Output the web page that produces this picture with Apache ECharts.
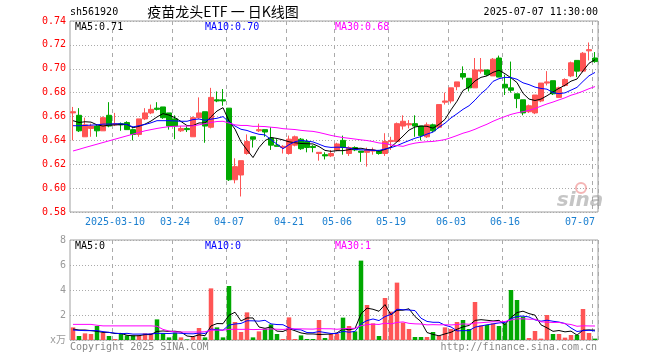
<!DOCTYPE html>
<html><head><meta charset="utf-8">
<script src="https://cdn.jsdelivr.net/npm/echarts@6/dist/echarts.min.js"></script>
<style>html,body{margin:0;padding:0;background:#fff}#c{width:660px;height:360px}</style>
</head><body><div id="c"></div>
<script>
const dates = [
'2025-02-27','2025-02-28',
'2025-03-03','2025-03-04','2025-03-05','2025-03-06','2025-03-07','2025-03-10','2025-03-11','2025-03-12','2025-03-13','2025-03-14',
'2025-03-17','2025-03-18','2025-03-19','2025-03-20','2025-03-21','2025-03-24','2025-03-25','2025-03-26','2025-03-27','2025-03-28','2025-03-31',
'2025-04-01','2025-04-02','2025-04-03','2025-04-07','2025-04-08','2025-04-09','2025-04-10','2025-04-11','2025-04-14','2025-04-15','2025-04-16',
'2025-04-17','2025-04-18','2025-04-21','2025-04-22','2025-04-23','2025-04-24','2025-04-25','2025-04-28','2025-04-29','2025-04-30',
'2025-05-06','2025-05-07','2025-05-08','2025-05-09','2025-05-12','2025-05-13','2025-05-14','2025-05-15','2025-05-16','2025-05-19',
'2025-05-20','2025-05-21','2025-05-22','2025-05-23','2025-05-26','2025-05-27','2025-05-28','2025-05-29','2025-05-30',
'2025-06-03','2025-06-04','2025-06-05','2025-06-06','2025-06-09','2025-06-10','2025-06-11','2025-06-12','2025-06-13','2025-06-16',
'2025-06-17','2025-06-18','2025-06-19','2025-06-20','2025-06-23','2025-06-24','2025-06-25','2025-06-26','2025-06-27','2025-06-30',
'2025-07-01','2025-07-02','2025-07-03','2025-07-04','2025-07-07'];

const opens = [0.663,0.661,0.643,0.650,0.652,0.648,0.661,0.653,0.654,0.655,
0.649,0.645,0.658,0.663,0.667,0.668,0.663,0.658,0.648,0.650,
0.643,0.659,0.664,0.651,0.674,0.674,0.667,0.607,0.611,0.629,
0.643,0.648,0.649,0.642,0.636,0.634,0.629,0.636,0.641,0.639,
0.635,0.629,0.628,0.627,0.632,0.640,0.629,0.634,0.631,0.630,
0.631,0.631,0.629,0.639,0.639,0.652,0.653,0.654,0.652,0.643,
0.653,0.651,0.672,0.673,0.685,0.696,0.692,0.684,0.698,0.699,
0.694,0.709,0.687,0.684,0.679,0.674,0.664,0.663,0.673,0.688,
0.690,0.676,0.686,0.694,0.707,0.698,0.715,0.709];

const closes = [0.664,0.648,0.653,0.652,0.648,0.659,0.652,0.654,0.653,0.649,
0.645,0.658,0.663,0.666,0.666,0.659,0.652,0.652,0.650,0.649,
0.659,0.663,0.652,0.676,0.673,0.673,0.607,0.618,0.623,0.639,
0.641,0.649,0.647,0.636,0.635,0.635,0.641,0.643,0.633,0.634,
0.634,0.630,0.627,0.629,0.637,0.634,0.634,0.632,0.630,0.632,
0.632,0.629,0.639,0.640,0.654,0.656,0.654,0.652,0.644,0.653,
0.648,0.670,0.673,0.684,0.689,0.693,0.684,0.699,0.699,0.695,
0.708,0.693,0.684,0.682,0.675,0.663,0.669,0.678,0.688,0.689,
0.679,0.684,0.691,0.705,0.698,0.713,0.716,0.706];

const lows = [0.640,0.647,0.643,0.643,0.643,0.648,0.651,0.652,0.648,0.649,
0.640,0.643,0.657,0.662,0.665,0.658,0.649,0.641,0.647,0.647,
0.643,0.658,0.638,0.650,0.672,0.669,0.606,0.604,0.593,0.628,
0.634,0.647,0.643,0.632,0.635,0.629,0.628,0.635,0.632,0.630,
0.630,0.623,0.624,0.626,0.631,0.628,0.627,0.631,0.622,0.618,
0.628,0.628,0.627,0.632,0.639,0.649,0.650,0.643,0.640,0.642,
0.647,0.650,0.670,0.671,0.682,0.691,0.681,0.684,0.696,0.694,
0.694,0.693,0.678,0.680,0.667,0.661,0.663,0.662,0.672,0.686,
0.678,0.676,0.685,0.693,0.693,0.697,0.707,0.705];

const highs = [0.668,0.667,0.659,0.654,0.653,0.660,0.672,0.663,0.655,0.656,
0.650,0.658,0.667,0.670,0.672,0.668,0.663,0.661,0.652,0.652,
0.660,0.676,0.664,0.684,0.681,0.683,0.667,0.625,0.623,0.645,
0.643,0.654,0.649,0.651,0.641,0.636,0.644,0.644,0.642,0.641,
0.636,0.630,0.630,0.632,0.638,0.644,0.635,0.635,0.631,0.634,
0.634,0.632,0.646,0.643,0.655,0.661,0.657,0.661,0.652,0.655,
0.654,0.670,0.680,0.684,0.689,0.702,0.692,0.709,0.709,0.699,
0.709,0.711,0.695,0.706,0.679,0.674,0.670,0.678,0.688,0.698,
0.690,0.685,0.692,0.706,0.707,0.714,0.722,0.714];

const volumes = [1.01,0.32,0.53,0.48,1.12,0.59,0.32,0.08,0.53,0.37,
0.37,0.37,0.53,0.53,1.65,0.53,0.21,0.59,0.21,0.05,
0.27,0.96,0.21,4.13,1.01,0.21,4.32,1.44,0.64,2.21,
0.21,0.69,0.91,1.25,0.48,0.08,1.81,0.08,0.37,0.08,
0.08,1.60,0.16,0.48,0.50,1.79,1.12,0.69,6.35,2.80,
1.33,0.32,3.36,2.27,4.59,1.39,0.88,0.24,0.24,0.24,
0.64,0.32,1.01,0.88,1.44,1.60,0.88,3.04,1.17,1.20,
1.33,1.12,1.33,4.00,3.20,1.87,0.16,0.72,0.11,2.00,
0.48,0.48,0.19,0.40,0.40,2.48,0.56,0.11];

// moving-average values before a full window exists inside the shown range
const ma5Lead = [0.6565,0.6550,0.6556,0.6553];
const ma10Lead = [0.6523,0.6522,0.6525,0.6528,0.6530,0.6536,0.6537,0.6539,0.6539];
const ma30Lead = [0.6311,0.6325,0.6340,0.6354,0.6368,0.6382,0.6396,0.6410,0.6424,0.6438,
0.6452,0.6466,0.6480,0.6490,0.6500,0.6508,0.6515,0.6518,0.6520,0.6520,
0.6522,0.6530,0.6540,0.6550,0.6558,0.6560,0.6545,0.6530,0.6525];
const vma5Lead = [0.88,0.80,0.80,0.75];
const vma10Lead = [0.80,0.77,0.75,0.75,0.75,0.67,0.61,0.55,0.50];
const vma30Lead = [1.25,1.25,1.25,1.25,1.18,1.13,1.13,1.13,1.13,1.13,
1.13,1.13,1.13,1.13,1.10,0.85,0.72,0.65,0.64,0.64,
0.64,0.64,0.66,0.78,0.79,0.79,0.85,0.86,0.85];

const tickDates = ['2025-03-10','2025-03-24','2025-04-07','2025-04-21','2025-05-06','2025-05-19','2025-06-03','2025-06-16','2025-07-07'];
const tickLabels = ['2025-03-10','03-24','04-07','04-21','05-06','05-19','06-03','06-16','07-07'];
const maTexts = ['MA5:0.71','MA10:0.70','MA30:0.68'];
const volMaTexts = ['MA5:0','MA10:0','MA30:1'];

function movingAvg(vals, n, lead) {
  return vals.map((v, i) => {
    if (i < n - 1) return lead[i];
    let s = 0;
    for (let k = i - n + 1; k <= i; k++) s += vals[k];
    return s / n;
  });
}

const RED = '#ff5555', GREEN = '#00a800';
const MONO = '"DejaVu Sans Mono","Liberation Mono",monospace';
const showTick = (idx, val) => tickDates.indexOf(val) >= 0;

const chart = echarts.init(document.getElementById('c'), null, {renderer: 'canvas'});

const kData = dates.map((d, i) => [opens[i], closes[i], lows[i], highs[i]]);
const volData = volumes.map((v, i) => ({value: v, itemStyle: {color: closes[i] >= opens[i] ? RED : GREEN}}));

function txt(x, y, text, fill, align, font) {
  return {type: 'text', x: x, y: y, silent: true, z: 100,
    style: {text: text, fill: fill, font: font || ('10px ' + MONO), textAlign: align || 'left', textVerticalAlign: 'middle'}};
}

const maColors = ['#000000', '#0000ff', '#ff00ff'];
const lineSeries = (data, color, xi) => ({
  type: 'line', data: data, xAxisIndex: xi, yAxisIndex: xi, symbol: 'none', silent: true,
  lineStyle: {width: 1, color: color}, z: 5, animation: false
});

const option = {
  animation: false,
  backgroundColor: '#ffffff',
  grid: [
    {left: 70, top: 21, width: 528, height: 191, show: true, borderColor: '#a0a0a0', borderWidth: 1},
    {left: 70, top: 240, width: 528, height: 100, show: true, borderColor: '#a0a0a0', borderWidth: 1}
  ],
  xAxis: [
    {type: 'category', gridIndex: 0, data: dates, boundaryGap: true,
     axisLine: {show: false}, axisTick: {show: false},
     axisLabel: {interval: showTick, color: '#1a7fd0', fontFamily: MONO, fontSize: 10, margin: 5,
       alignMaxLabel: 'right',
       formatter: v => { const k = tickDates.indexOf(v); return k >= 0 ? tickLabels[k] : ''; }},
     splitLine: {show: true, interval: showTick, lineStyle: {color: '#aaaaaa', type: [4, 4], width: 1}}},
    {type: 'category', gridIndex: 1, data: dates, boundaryGap: true,
     axisLine: {show: false}, axisTick: {show: false}, axisLabel: {show: false},
     splitLine: {show: true, interval: showTick, lineStyle: {color: '#aaaaaa', type: [4, 4], width: 1}}}
  ],
  yAxis: [
    {type: 'value', gridIndex: 0, min: 0.58, max: 0.74, interval: 0.02, scale: true,
     axisLine: {show: false}, axisTick: {show: false},
     axisLabel: {color: '#ff0000', fontFamily: MONO, fontSize: 10, margin: 4, formatter: v => v.toFixed(2)},
     splitLine: {show: true, lineStyle: {color: '#aaaaaa', type: [1, 2], width: 1}}},
    {type: 'value', gridIndex: 1, min: 0, max: 8, interval: 2,
     axisLine: {show: false}, axisTick: {show: false},
     axisLabel: {color: '#999999', fontFamily: MONO + ',"Noto Sans CJK SC"', fontSize: 10, margin: 4,
       formatter: v => v === 0 ? 'x万' : String(v)},
     splitLine: {show: true, lineStyle: {color: '#aaaaaa', type: [1, 2], width: 1}}}
  ],
  series: [
    {type: 'candlestick', xAxisIndex: 0, yAxisIndex: 0, data: kData, barWidth: 5, silent: true,
     itemStyle: {color: RED, color0: GREEN, borderColor: RED, borderColor0: GREEN, borderWidth: 1}, z: 2},
    lineSeries(movingAvg(closes, 5, ma5Lead), maColors[0], 0),
    lineSeries(movingAvg(closes, 10, ma10Lead), maColors[1], 0),
    lineSeries(movingAvg(closes, 30, ma30Lead), maColors[2], 0),
    {type: 'bar', xAxisIndex: 1, yAxisIndex: 1, data: volData, barWidth: 4.5, silent: true, z: 2},
    lineSeries(movingAvg(volumes, 5, vma5Lead), maColors[0], 1),
    lineSeries(movingAvg(volumes, 10, vma10Lead), maColors[1], 1),
    lineSeries(movingAvg(volumes, 30, vma30Lead), maColors[2], 1)
  ],
  graphic: [
    txt(70, 12, 'sh561920', '#000'),
    txt(223, 12, '疫苗龙头ETF 一 日K线图', '#000', 'center', '14px "Noto Sans CJK SC"'),
    txt(598, 12, '2025-07-07 11:30:00', '#000', 'right'),
    txt(75, 27, maTexts[0], maColors[0]),
    txt(205, 27, maTexts[1], maColors[1]),
    txt(335, 27, maTexts[2], maColors[2]),
    txt(75, 246, volMaTexts[0], maColors[0]),
    txt(205, 246, volMaTexts[1], maColors[1]),
    txt(335, 246, volMaTexts[2], maColors[2]),
    txt(70, 347, 'Copyright 2025 SINA.COM', '#888888'),
    txt(597, 347, 'http://finance.sina.com.cn', '#888888', 'right'),
    {type: 'circle', silent: true, z: 1, shape: {cx: 581, cy: 188, r: 5},
     style: {fill: 'none', stroke: 'rgba(230,90,90,0.45)', lineWidth: 2}},
    txt(580, 201, 'sina', 'rgba(150,150,150,0.55)', 'center', 'italic bold 20px "DejaVu Sans"')
  ]
};
chart.setOption(option);
</script>
</body></html>
